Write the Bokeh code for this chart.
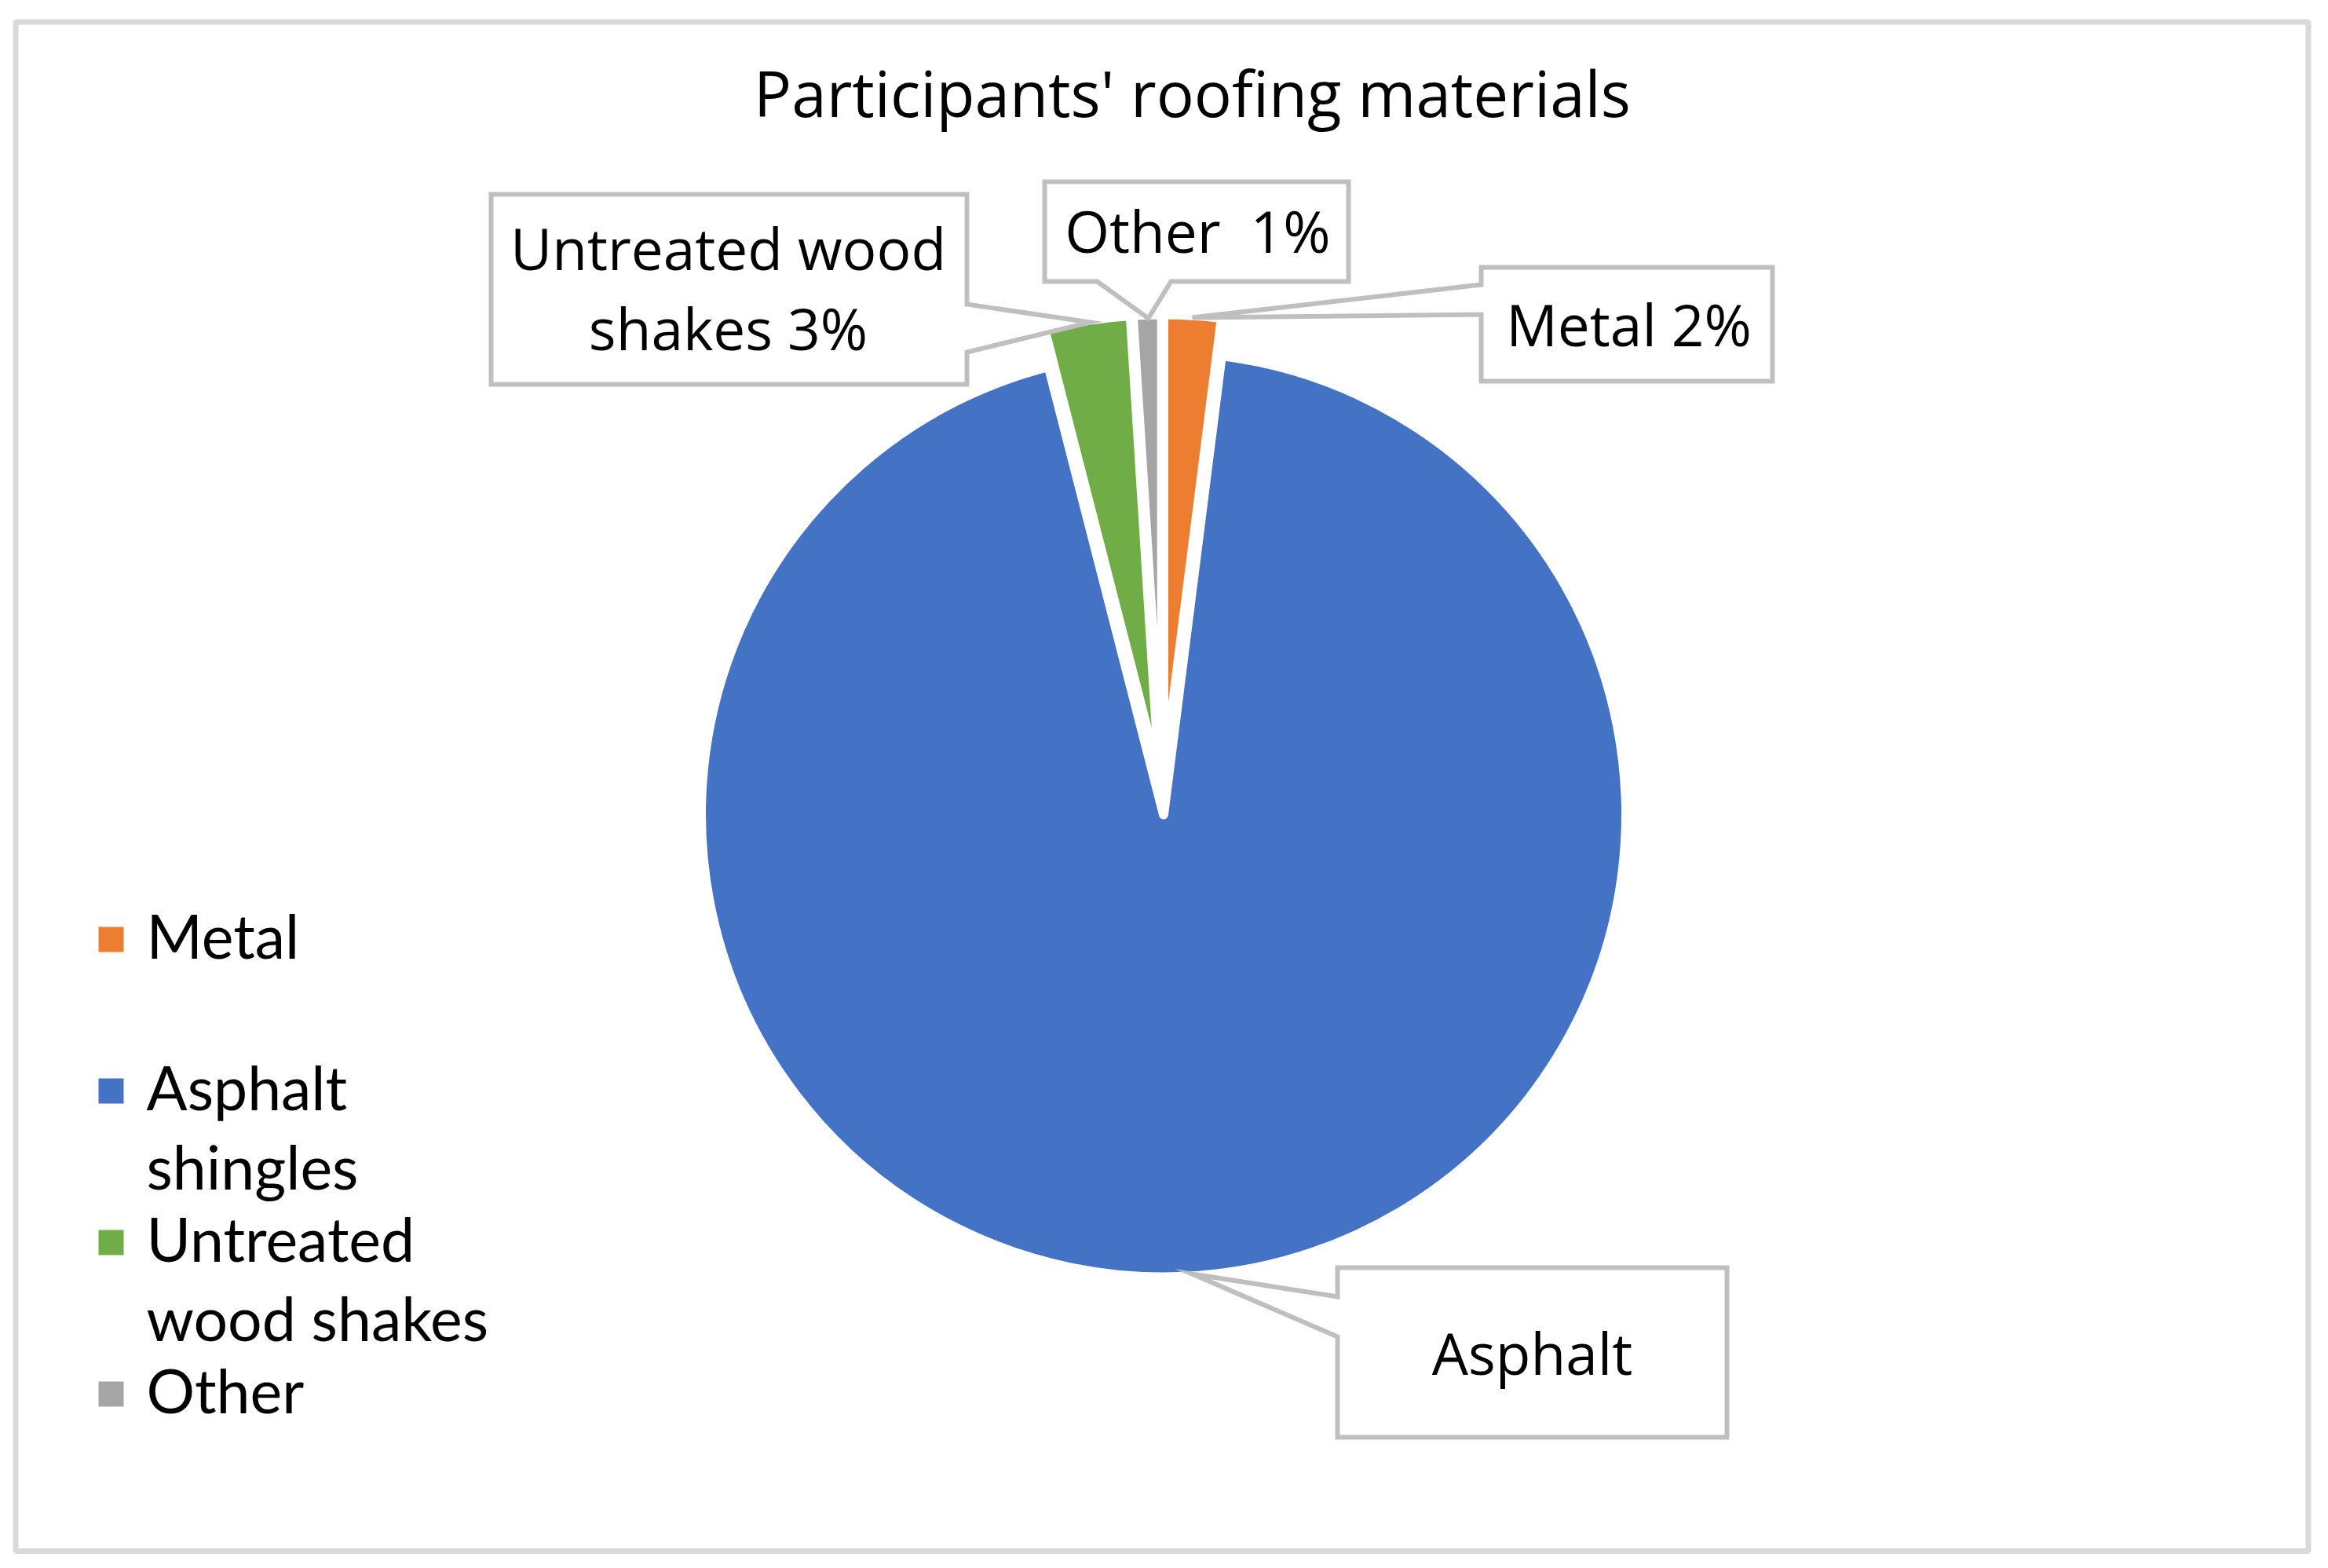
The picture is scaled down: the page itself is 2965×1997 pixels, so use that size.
import numpy as np
from bokeh.plotting import figure
from bokeh.models import Range1d
from bokeh.core.properties import value
from bokeh.embed import file_html
from bokeh.resources import INLINE

# ---------------- data ----------------
title_text = "Participants' roofing materials"
categories = ["Metal", "Asphalt shingles", "Untreated wood shakes", "Other"]
shares = [2.0, 94.0, 3.0, 1.0]
colors = ["#ED7D31", "#4472C4", "#70AD47", "#A5A5A5"]
data_labels = ["Metal 2%", "Asphalt", "Untreated wood\nshakes 3%", "Other \u00a01%"]
legend_labels = ["Metal", "Asphalt\nshingles", "Untreated\nwood shakes", "Other"]

# ---------------- layout ----------------
PAGE_H = 1997
W, H = 2949, 1981
OX, OY = 0, 0  # page offset of the canvas


def Y(y):
    return PAGE_H - y


p = figure(width=W, height=H, x_range=Range1d(OX, OX + W),
           y_range=Range1d(PAGE_H - OY - H, PAGE_H - OY),
           output_backend="svg", toolbar_location=None, min_border=0,
           x_axis_location=None, y_axis_location=None, title=None)
p.grid.visible = False
p.outline_line_color = None
p.background_fill_color = "white"
p.border_fill_color = "white"

# chart area border
p.quad(left=[19.5], right=[2939.5], top=[Y(27.5)], bottom=[Y(1975)],
       fill_color=None, line_color="#D9D9D9", line_width=7)

# title
p.text(x=[1518], y=[Y(155 - 38)], text=[title_text], text_align="center",
       text_baseline="alphabetic", text_font=value("Open Sans"),
       text_font_size=value("80px"), text_color="#000000")

# ---------------- pie ----------------
PIE_CX, PIE_CY, PIE_R, EXPLODE = 1480, 1013, 589, 24
fr = np.array(shares) / np.sum(shares)
cum = np.concatenate([[0.0], np.cumsum(fr)])
f0, f1 = cum[:-1], cum[1:]
start = np.pi / 2 - 2 * np.pi * f1
end = np.pi / 2 - 2 * np.pi * f0
mid = (start + end) / 2
cx = PIE_CX + EXPLODE * np.cos(mid)
cy = Y(PIE_CY) + EXPLODE * np.sin(mid)
p.wedge(x=cx, y=cy, radius=PIE_R, start_angle=start, end_angle=end,
        fill_color=colors, line_color="white", line_width=12,
        line_join="round")

# ---------------- callout labels ----------------
callouts = {
    "Metal": [(1886, 340), (2257, 340), (2257, 485), (1886, 485),
              (1886, 400), (1518, 404), (1886, 362)],
    "Asphalt shingles": [(1703, 1614), (2199, 1614), (2199, 1830), (1703, 1830),
                         (1703, 1702), (1518, 1622), (1703, 1651)],
    "Untreated wood shakes": [(625, 247), (1231, 247), (1231, 387), (1388, 410),
                              (1231, 448), (1231, 489), (625, 489)],
    "Other": [(1330, 231), (1717, 231), (1717, 358), (1491, 358),
              (1462, 405), (1397, 358), (1330, 358)],
}
label_pos = {  # text centre x, first baseline y
    "Metal": (2074, 442),
    "Asphalt shingles": (1951, 1752),
    "Untreated wood shakes": (927, 345),
    "Other": (1525, 323),
}
LABEL_SHIFT = 30
xs = [[pt[0] for pt in callouts[c]] for c in categories]
ys = [[Y(pt[1]) for pt in callouts[c]] for c in categories]
p.patches(xs=xs, ys=ys, fill_color="white", line_color="#BFBFBF",
          line_width=6, line_join="miter")

tx, ty, tt = [], [], []
for c, lab in zip(categories, data_labels):
    x0, y0 = label_pos[c]
    for i, line in enumerate(lab.split("\n")):
        tx.append(x0)
        ty.append(Y(y0 - LABEL_SHIFT + i * 102))
        tt.append(line)
p.text(x=tx, y=ty, text=tt, text_align="center", text_baseline="alphabetic",
       text_font=value("Open Sans"), text_font_size=value("73px"),
       text_color="#000000")

# ---------------- legend ----------------
LEG_X_SQ, LEG_X_TXT, LEG_Y0, LEG_STEP, LEG_LINE = 141, 186, 1220, 193, 101
LEG_SHIFT = 30
sq_y = [Y(LEG_Y0 + i * LEG_STEP - 24) for i in range(len(categories))]
p.rect(x=[LEG_X_SQ] * len(categories), y=sq_y, width=32, height=32,
       fill_color=colors, line_color=None)
lx, ly, lt = [], [], []
for i, lab in enumerate(legend_labels):
    for j, line in enumerate(lab.split("\n")):
        lx.append(LEG_X_TXT)
        ly.append(Y(LEG_Y0 - LEG_SHIFT + i * LEG_STEP + j * LEG_LINE))
        lt.append(line)
p.text(x=lx, y=ly, text=lt, text_align="left", text_baseline="alphabetic",
       text_font=value("Lato"), text_font_size=value("77px"),
       text_color="#000000")

open("out.html", "w").write(file_html(p, INLINE))
